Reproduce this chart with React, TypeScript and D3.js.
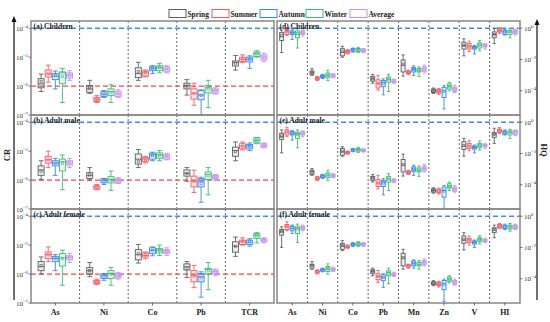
import * as d3 from 'd3';

// [min, q1, median, q3, max, mean]
const seasons = ['Spring', 'Summer', 'Autumn', 'Winter', 'Average'];
const seasonColors = ['#5f5f5f', '#f25a64', '#3b87e4', '#3dba78', '#c493ec'];
const crElements = ['As', 'Ni', 'Co', 'Pb', 'TCR'];
const hqElements = ['As', 'Ni', 'Co', 'Pb', 'Mn', 'Zn', 'V', 'HI'];
const crTicks = [1e-4, 1e-5, 1e-6, 1e-7];
const hqTicks = [1, 1e-2, 1e-4];

const crChildren = [
  [[6.5e-7, 8.7e-7, 1.2e-6, 1.8e-6, 2.6e-6, 1.46e-6], [1.37e-6, 2.06e-6, 2.6e-6, 3.6e-6, 5.3e-6, 2.8e-6], [8.0e-7, 1.67e-6, 2.2e-6, 2.7e-6, 3.3e-6, 2.3e-6], [2.7e-7, 1.2e-6, 2.86e-6, 3.1e-6, 4.1e-6, 2.2e-6], [1.58e-6, 1.9e-6, 2.37e-6, 2.86e-6, 3.4e-6, 2.4e-6]],
  [[5.6e-7, 6.1e-7, 8.0e-7, 1.05e-6, 1.58e-6, 8.5e-7], [2.7e-7, 2.92e-7, 3.44e-7, 4.06e-7, 4.66e-7, 3.5e-7], [4.06e-7, 4.4e-7, 5.3e-7, 6.4e-7, 7.0e-7, 5.3e-7], [2.7e-7, 4.66e-7, 6.4e-7, 8.0e-7, 1.11e-6, 6.0e-7], [4.06e-7, 4.4e-7, 5.3e-7, 6.6e-7, 7.4e-7, 5.4e-7]],
  [[1.58e-6, 1.96e-6, 2.7e-6, 4.3e-6, 6.65e-6, 3.2e-6], [2.06e-6, 2.24e-6, 2.86e-6, 3.3e-6, 3.6e-6, 2.9e-6], [2.7e-6, 3.4e-6, 4.1e-6, 4.66e-6, 5.05e-6, 4.1e-6], [2.86e-6, 3.4e-6, 4.3e-6, 5.05e-6, 6.1e-6, 4.3e-6], [2.86e-6, 3.1e-6, 3.86e-6, 4.66e-6, 5.05e-6, 3.9e-6]],
  [[4.9e-7, 8.0e-7, 1.05e-6, 1.26e-6, 1.67e-6, 1.0e-6], [2.18e-7, 3.56e-7, 5.6e-7, 8.0e-7, 1.26e-6, 5.5e-7], [1.0e-7, 3.36e-7, 4.9e-7, 7.0e-7, 7.4e-7, 4.8e-7], [1.8e-7, 5.8e-7, 8.7e-7, 1.05e-6, 1.58e-6, 8.0e-7], [5.3e-7, 5.6e-7, 7.0e-7, 8.0e-7, 8.7e-7, 6.8e-7]],
  [[3.56e-6, 4.93e-6, 6.45e-6, 7.4e-6, 1.14e-5, 6.2e-6], [6.45e-6, 7.0e-6, 8.5e-6, 1.0e-5, 1.2e-5, 8.6e-6], [4.1e-6, 6.8e-6, 8.5e-6, 1.0e-5, 1.11e-5, 8.5e-6], [1.0e-5, 1.05e-5, 1.31e-5, 1.5e-5, 1.67e-5, 1.3e-5], [7.0e-6, 8.0e-6, 1.0e-5, 1.2e-5, 1.38e-5, 1.0e-5]],
];

const crAdultMale = [
  [[1.05e-6, 1.46e-6, 2.24e-6, 3.1e-6, 4.66e-6, 2.0e-6], [2.7e-6, 3.86e-6, 5.05e-6, 6.65e-6, 1.0e-5, 5.0e-6], [1.46e-6, 3.1e-6, 3.86e-6, 4.66e-6, 5.66e-6, 3.8e-6], [4.66e-7, 2.06e-6, 4.3e-6, 5.3e-6, 7.4e-6, 3.8e-6], [2.7e-6, 3.3e-6, 3.9e-6, 4.66e-6, 5.66e-6, 4.0e-6]],
  [[1.0e-6, 1.14e-6, 1.46e-6, 1.81e-6, 2.7e-6, 1.5e-6], [4.66e-7, 4.9e-7, 5.8e-7, 6.4e-7, 7.0e-7, 5.8e-7], [7.0e-7, 8.0e-7, 1.0e-6, 1.11e-6, 1.14e-6, 9.0e-7], [4.4e-7, 8.0e-7, 1.05e-6, 1.31e-6, 2.06e-6, 1.0e-6], [7.6e-7, 8.0e-7, 9.7e-7, 1.11e-6, 1.2e-6, 9.5e-7]],
  [[2.7e-6, 3.56e-6, 5.3e-6, 8.0e-6, 1.14e-5, 4.5e-6], [3.9e-6, 4.43e-6, 5.3e-6, 6.1e-6, 6.65e-6, 5.0e-6], [4.66e-6, 5.3e-6, 7.4e-6, 8.5e-6, 9.2e-6, 7.0e-6], [4.66e-6, 5.66e-6, 7.4e-6, 8.7e-6, 1.05e-5, 7.0e-6], [5.0e-6, 5.3e-6, 6.45e-6, 7.6e-6, 8.5e-6, 6.5e-6]],
  [[9.1e-7, 1.37e-6, 1.71e-6, 2.24e-6, 2.7e-6, 1.7e-6], [3.73e-7, 5.8e-7, 9.1e-7, 1.37e-6, 2.2e-6, 9.0e-7], [1.71e-7, 5.8e-7, 9.1e-7, 1.14e-6, 1.26e-6, 7.5e-7], [3.1e-7, 1.05e-6, 1.58e-6, 1.9e-6, 2.7e-6, 1.4e-6], [1.0e-6, 1.11e-6, 1.26e-6, 1.46e-6, 1.58e-6, 1.2e-6]],
  [[4.66e-6, 6.65e-6, 1.05e-5, 1.38e-5, 2.08e-5, 9.5e-6], [1.11e-5, 1.2e-5, 1.5e-5, 1.81e-5, 2.08e-5, 1.45e-5], [1.05e-5, 1.2e-5, 1.5e-5, 1.71e-5, 1.92e-5, 1.45e-5], [1.81e-5, 1.92e-5, 2.37e-5, 2.88e-5, 2.95e-5, 2.3e-5], [1.31e-5, 1.38e-5, 1.58e-5, 1.81e-5, 1.92e-5, 1.55e-5]],
];

const crAdultFemale = [
  [[1.0e-6, 1.31e-6, 1.8e-6, 2.7e-6, 3.9e-6, 2.0e-6], [2.7e-6, 3.4e-6, 4.7e-6, 5.8e-6, 8.7e-6, 4.6e-6], [1.31e-6, 2.7e-6, 3.4e-6, 4.1e-6, 4.7e-6, 3.5e-6], [4.1e-7, 1.9e-6, 3.6e-6, 5.1e-6, 6.7e-6, 3.5e-6], [2.5e-6, 3.1e-6, 3.8e-6, 4.3e-6, 5.1e-6, 3.7e-6]],
  [[8.1e-7, 1.0e-6, 1.31e-6, 1.67e-6, 2.5e-6, 1.3e-6], [4.3e-7, 4.7e-7, 5.4e-7, 6.1e-7, 6.7e-7, 5.4e-7], [6.1e-7, 7.0e-7, 8.7e-7, 1.0e-6, 1.05e-6, 8.5e-7], [4.1e-7, 7.0e-7, 1.05e-6, 1.31e-6, 1.7e-6, 1.0e-6], [6.7e-7, 7.4e-7, 8.7e-7, 1.05e-6, 1.15e-6, 8.6e-7]],
  [[2.4e-6, 3.1e-6, 4.7e-6, 7.0e-6, 1.06e-5, 5.0e-6], [3.4e-6, 3.9e-6, 4.4e-6, 5.4e-6, 5.8e-6, 4.6e-6], [4.3e-6, 5.1e-6, 6.7e-6, 8.1e-6, 8.7e-6, 6.5e-6], [4.4e-6, 5.4e-6, 6.7e-6, 7.6e-6, 1.0e-5, 6.6e-6], [4.4e-6, 5.1e-6, 6.1e-6, 7.0e-6, 8.1e-6, 6.0e-6]],
  [[7.6e-7, 1.38e-6, 1.8e-6, 2.25e-6, 2.7e-6, 1.6e-6], [3.4e-7, 5.4e-7, 8.7e-7, 1.31e-6, 2.0e-6, 8.5e-7], [1.6e-7, 5.4e-7, 8.1e-7, 1.05e-6, 1.2e-6, 7.5e-7], [2.9e-7, 1.0e-6, 1.46e-6, 1.58e-6, 2.5e-6, 1.3e-6], [8.7e-7, 1.0e-6, 1.2e-6, 1.38e-6, 1.5e-6, 1.15e-6]],
  [[4.1e-6, 5.7e-6, 9.2e-6, 1.31e-5, 1.9e-5, 9.0e-6], [1.0e-5, 1.06e-5, 1.31e-5, 1.5e-5, 1.8e-5, 1.35e-5], [9.2e-6, 1.06e-5, 1.28e-5, 1.5e-5, 1.67e-5, 1.3e-5], [1.2e-5, 1.72e-5, 2.2e-5, 2.5e-5, 2.7e-5, 2.1e-5], [1.2e-5, 1.31e-5, 1.5e-5, 1.67e-5, 1.8e-5, 1.45e-5]],
];

const hqChildren = [
  [[0.028, 0.163, 0.28, 0.52, 0.74, 0.35], [0.35, 0.4, 0.6, 0.86, 1.1, 0.6], [0.19, 0.4, 0.52, 0.67, 0.86, 0.5], [0.054, 0.244, 0.4, 0.67, 0.95, 0.45], [0.31, 0.4, 0.52, 0.67, 0.78, 0.52]],
  [[9.6e-4, 1.12e-3, 1.44e-3, 1.85e-3, 2.64e-3, 1.5e-3], [4.5e-4, 5.0e-4, 6.1e-4, 7.5e-4, 8.3e-4, 6.2e-4], [6.1e-4, 6.8e-4, 8.3e-4, 1.01e-3, 1.12e-3, 8.3e-4], [4.5e-4, 6.8e-4, 9.6e-4, 1.37e-3, 2.05e-3, 1.0e-3], [6.8e-4, 7.5e-4, 9.2e-4, 1.12e-3, 1.24e-3, 9.2e-4]],
  [[0.0139, 0.017, 0.028, 0.0489, 0.0695, 0.033], [0.023, 0.0254, 0.031, 0.038, 0.042, 0.031], [0.0295, 0.0327, 0.042, 0.049, 0.054, 0.042], [0.028, 0.0327, 0.042, 0.051, 0.0597, 0.043], [0.028, 0.0295, 0.038, 0.0465, 0.049, 0.039]],
  [[3.0e-4, 4.1e-4, 5.8e-4, 8.3e-4, 1.12e-3, 5.8e-4], [1.1e-4, 1.5e-4, 3.0e-4, 5.0e-4, 9.6e-4, 3.0e-4], [5.5e-5, 1.83e-4, 3.5e-4, 4.5e-4, 5.8e-4, 3.0e-4], [9.0e-5, 3.5e-4, 5.3e-4, 7.5e-4, 1.12e-3, 5.5e-4], [3.0e-4, 3.35e-4, 4.1e-4, 5.0e-4, 5.5e-4, 4.2e-4]],
  [[8.7e-4, 1.59e-3, 4.35e-3, 9.3e-3, 0.0197, 5.0e-3], [1.06e-3, 1.24e-3, 1.51e-3, 1.85e-3, 2.05e-3, 1.5e-3], [9.6e-4, 1.59e-3, 2.26e-3, 3.06e-3, 3.94e-3, 2.3e-3], [8.3e-4, 1.59e-3, 2.05e-3, 2.64e-3, 3.39e-3, 2.1e-3], [1.37e-3, 1.76e-3, 2.38e-3, 3.39e-3, 4.35e-3, 2.5e-3]],
  [[6.7e-5, 7.8e-5, 1.0e-4, 1.29e-4, 1.5e-4, 1.0e-4], [6.0e-5, 7.0e-5, 9.0e-5, 1.22e-4, 1.42e-4, 9.0e-5], [6.9e-6, 3.66e-5, 1.0e-4, 1.66e-4, 2.13e-4, 9.0e-5], [1.0e-4, 1.29e-4, 1.92e-4, 2.74e-4, 3.5e-4, 1.9e-4], [7.8e-5, 9.0e-5, 1.22e-4, 1.66e-4, 2.13e-4, 1.25e-4]],
  [[0.017, 0.0465, 0.077, 0.127, 0.21, 0.08], [0.0327, 0.0465, 0.0695, 0.104, 0.148, 0.07], [0.023, 0.0465, 0.0597, 0.0695, 0.077, 0.058], [0.036, 0.054, 0.081, 0.115, 0.163, 0.085], [0.0465, 0.063, 0.077, 0.094, 0.104, 0.077]],
  [[0.104, 0.244, 0.4, 0.575, 0.95, 0.4], [0.47, 0.575, 0.74, 0.9, 1.1, 0.75], [0.366, 0.4, 0.575, 0.74, 0.86, 0.58], [0.244, 0.4, 0.575, 0.74, 0.95, 0.6], [0.366, 0.447, 0.6, 0.78, 0.86, 0.6]],
];

const hqAdultMale = [
  [[0.011, 0.08, 0.119, 0.195, 0.32, 0.13], [0.119, 0.152, 0.226, 0.32, 0.475, 0.24], [0.072, 0.152, 0.195, 0.25, 0.29, 0.2], [0.023, 0.093, 0.168, 0.226, 0.32, 0.17], [0.119, 0.152, 0.195, 0.25, 0.276, 0.2]],
  [[4.0e-4, 4.6e-4, 6.6e-4, 8.4e-4, 1.08e-3, 6.6e-4], [1.9e-4, 2.1e-4, 2.56e-4, 3.1e-4, 3.45e-4, 2.6e-4], [2.56e-4, 2.83e-4, 3.6e-4, 4.2e-4, 4.6e-4, 3.6e-4], [1.9e-4, 2.83e-4, 4.2e-4, 5.7e-4, 8.4e-4, 4.2e-4], [2.83e-4, 3.1e-4, 3.8e-4, 4.6e-4, 5.1e-4, 3.8e-4]],
  [[6.7e-3, 7.8e-3, 0.0128, 0.021, 0.027, 0.014], [9.1e-3, 0.01, 0.0116, 0.0128, 0.0142, 0.0115], [0.0128, 0.0142, 0.0164, 0.019, 0.021, 0.0165], [0.0116, 0.0142, 0.0172, 0.021, 0.0244, 0.0175], [0.0122, 0.0135, 0.0156, 0.0181, 0.02, 0.0155]],
  [[1.49e-4, 1.9e-4, 2.7e-4, 3.45e-4, 4.6e-4, 2.7e-4], [5.5e-5, 7.8e-5, 1.28e-4, 2.2e-4, 4.0e-4, 1.3e-4], [2.26e-5, 7.8e-5, 1.49e-4, 1.9e-4, 2.44e-4, 1.3e-4], [4.3e-5, 1.49e-4, 2.44e-4, 3.45e-4, 5.1e-4, 2.3e-4], [1.35e-4, 1.49e-4, 1.9e-4, 2.2e-4, 2.44e-4, 1.9e-4]],
  [[3.6e-4, 6.6e-4, 1.77e-3, 4.1e-3, 9.1e-3, 2.0e-3], [4.6e-4, 5.1e-4, 6.25e-4, 7.6e-4, 8.4e-4, 6.3e-4], [4.0e-4, 7.2e-4, 9.75e-4, 1.38e-3, 1.77e-3, 1.0e-3], [3.45e-4, 6.6e-4, 8.4e-4, 1.19e-3, 1.6e-3, 8.8e-4], [6.6e-4, 7.6e-4, 1.08e-3, 1.52e-3, 1.95e-3, 1.1e-3]],
  [[2.9e-5, 3.36e-5, 4.3e-5, 5.5e-5, 6.4e-5, 4.3e-5], [2.6e-5, 3.05e-5, 3.9e-5, 5.25e-5, 6.1e-5, 3.9e-5], [3.1e-6, 1.6e-5, 4.3e-5, 7.1e-5, 9.1e-5, 4.0e-5], [4.3e-5, 6.1e-5, 8.2e-5, 1.16e-4, 1.49e-4, 8.0e-5], [3.36e-5, 3.9e-5, 5.25e-5, 7.1e-5, 9.1e-5, 5.3e-5]],
  [[6.7e-3, 0.0181, 0.0297, 0.0566, 0.093, 0.033], [0.0149, 0.021, 0.0297, 0.0442, 0.0656, 0.03], [0.011, 0.019, 0.0244, 0.0297, 0.0345, 0.024], [0.0164, 0.023, 0.0328, 0.0442, 0.0625, 0.034], [0.021, 0.027, 0.0313, 0.038, 0.0442, 0.031]],
  [[0.0442, 0.108, 0.168, 0.215, 0.41, 0.17], [0.195, 0.226, 0.276, 0.353, 0.45, 0.3], [0.152, 0.168, 0.215, 0.276, 0.32, 0.23], [0.093, 0.152, 0.215, 0.276, 0.353, 0.24], [0.138, 0.168, 0.226, 0.29, 0.32, 0.24]],
];

const hqAdultFemale = [
  [[0.0102, 0.062, 0.101, 0.142, 0.21, 0.11], [0.117, 0.142, 0.21, 0.296, 0.437, 0.22], [0.079, 0.117, 0.165, 0.232, 0.268, 0.18], [0.0213, 0.079, 0.165, 0.21, 0.31, 0.15], [0.117, 0.142, 0.18, 0.232, 0.268, 0.18]],
  [[4.1e-4, 4.75e-4, 6.7e-4, 8.5e-4, 1.26e-3, 7.0e-4], [2.08e-4, 2.29e-4, 2.78e-4, 3.38e-4, 3.73e-4, 2.8e-4], [2.78e-4, 3.07e-4, 3.73e-4, 4.3e-4, 4.75e-4, 3.7e-4], [1.98e-4, 2.92e-4, 4.3e-4, 6.1e-4, 8.95e-4, 4.4e-4], [2.92e-4, 3.22e-4, 3.9e-4, 4.75e-4, 5.5e-4, 3.9e-4]],
  [[6.3e-3, 7.65e-3, 0.0125, 0.0184, 0.0272, 0.013], [8.9e-3, 9.8e-3, 0.0108, 0.0125, 0.0144, 0.011], [0.0113, 0.0131, 0.0159, 0.0184, 0.0203, 0.016], [0.0113, 0.0131, 0.0167, 0.0203, 0.0235, 0.017], [0.0113, 0.0131, 0.0159, 0.0184, 0.0203, 0.016]],
  [[1.55e-4, 2.08e-4, 2.92e-4, 3.73e-4, 4.75e-4, 2.9e-4], [5.85e-5, 8.6e-5, 1.41e-4, 2.08e-4, 3.38e-4, 1.4e-4], [2.8e-5, 7.5e-5, 1.28e-4, 1.8e-4, 2.08e-4, 1.2e-4], [4.8e-5, 1.55e-4, 2.52e-4, 3.22e-4, 4.75e-4, 2.3e-4], [1.41e-4, 1.55e-4, 1.88e-4, 2.29e-4, 2.65e-4, 1.9e-4]],
  [[4.1e-4, 6.7e-4, 2.05e-3, 4.27e-3, 7.65e-3, 2.2e-3], [4.75e-4, 5.5e-4, 6.7e-4, 7.75e-4, 8.5e-4, 6.5e-4], [4.75e-4, 6.7e-4, 9.9e-4, 1.39e-3, 1.61e-3, 1.0e-3], [4.1e-4, 6.7e-4, 8.5e-4, 1.14e-3, 1.46e-3, 9.0e-4], [6.7e-4, 7.75e-4, 1.09e-3, 1.46e-3, 1.86e-3, 1.1e-3]],
  [[3.6e-5, 4.16e-5, 5.3e-5, 6.45e-5, 7.5e-5, 5.2e-5], [2.96e-5, 3.6e-5, 4.37e-5, 5.85e-5, 6.8e-5, 4.4e-5], [3.6e-6, 2.0e-5, 4.8e-5, 7.8e-5, 9.5e-5, 4.5e-5], [5.3e-5, 6.8e-5, 9.5e-5, 1.28e-4, 1.55e-4, 9.0e-5], [3.96e-5, 4.37e-5, 5.85e-5, 7.8e-5, 9.5e-5, 6.0e-5]],
  [[6.9e-3, 0.0184, 0.03, 0.0537, 0.0875, 0.033], [0.0144, 0.0203, 0.03, 0.0382, 0.0537, 0.03], [9.8e-3, 0.0167, 0.0213, 0.0259, 0.03, 0.022], [0.0167, 0.0235, 0.033, 0.042, 0.0564, 0.032], [0.0203, 0.0235, 0.0272, 0.033, 0.0382, 0.028]],
  [[0.042, 0.092, 0.129, 0.18, 0.268, 0.14], [0.165, 0.18, 0.232, 0.296, 0.342, 0.25], [0.142, 0.165, 0.21, 0.268, 0.31, 0.2], [0.111, 0.15, 0.21, 0.268, 0.342, 0.2], [0.142, 0.165, 0.21, 0.268, 0.31, 0.21]],
];

const W = 550;
const H = 322;
const font = '"Liberation Serif", "Times New Roman", serif';
const panelTops = [21, 115, 209];
const panelH = 94;
const blue = '#3f8ff0';
const red = '#f04848';

const panels = [
  { label: '(a) Children', kind: 'cr', row: 0, data: crChildren },
  { label: '(b) Adult male', kind: 'cr', row: 1, data: crAdultMale },
  { label: '(c) Adult female', kind: 'cr', row: 2, data: crAdultFemale },
  { label: '(d) Children', kind: 'hq', row: 0, data: hqChildren },
  { label: '(e) Adult male', kind: 'hq', row: 1, data: hqAdultMale },
  { label: '(f) Adult female', kind: 'hq', row: 2, data: hqAdultFemale },
];

const expLabel = (v) => String(Math.round(Math.log10(v))).replace('-', '\u2212');

function Panel({ p }) {
  const isCr = p.kind === 'cr';
  const top = panelTops[p.row];
  const x0 = isCr ? 31 : 277;
  const x1 = isCr ? 274 : 520;
  const elements = isCr ? crElements : hqElements;
  const y = d3.scaleLog()
    .domain(isCr ? [1e-7, Math.pow(10, -3.75)] : [Math.pow(10, -5.55), Math.pow(10, 0.46)])
    .range([top + panelH, top]);
  const x = d3.scaleBand().domain(elements).range([x0, x1]);
  const inner = d3.scaleBand().domain(seasons).range([0, x.bandwidth()])
    .paddingInner(isCr ? 0.15 : 0.25).paddingOuter(isCr ? 1.0 : 0.5);
  const bw = inner.bandwidth();
  const refs = isCr ? [[1e-4, blue], [1e-6, red]] : [[1, blue]];

  return (
    <g>
      {elements.slice(1).map((e) => (
        <line key={e} x1={x(e)} x2={x(e)} y1={top} y2={top + panelH}
          stroke="#555" strokeWidth={0.9} strokeDasharray="2,2" />
      ))}
      {refs.map(([v, c]) => (
        <line key={v} x1={x0} x2={x1} y1={y(v)} y2={y(v)} stroke={c}
          strokeWidth={1.4} strokeDasharray="5,3" />
      ))}
      {elements.map((e, ei) => (
        <g key={e}>
          {seasons.map((s, si) => {
            const [mn, q1, md, q3, mx, mean] = p.data[ei][si];
            const c = seasonColors[si];
            const cx = x(e) + inner(s) + bw / 2;
            const cap = bw * 0.8;
            return (
              <g key={s} stroke={c} strokeWidth={0.9}>
                <line x1={cx} x2={cx} y1={y(mn)} y2={y(q1)} />
                <line x1={cx} x2={cx} y1={y(q3)} y2={y(mx)} />
                <line x1={cx - cap / 2} x2={cx + cap / 2} y1={y(mn)} y2={y(mn)} />
                <line x1={cx - cap / 2} x2={cx + cap / 2} y1={y(mx)} y2={y(mx)} />
                <rect x={cx - bw / 2} width={bw} y={y(q3)} height={Math.max(0.8, y(q1) - y(q3))}
                  fill={c} fillOpacity={si === 4 ? 0.35 : 0.12} />
                <line x1={cx - bw / 2} x2={cx + bw / 2} y1={y(md)} y2={y(md)} />
                <rect x={cx - 1.1} y={y(mean) - 1.1} width={2.2} height={2.2} fill="none" strokeWidth={0.6} />
              </g>
            );
          })}
        </g>
      ))}
      <rect x={x0} y={top} width={x1 - x0} height={panelH} fill="none" stroke="#888" strokeWidth={1.5} />
      <text x={x0 + 2.5} y={top + 7.5} fontFamily={font} fontWeight="bold" fontSize={7.5} fill="#222">{p.label}</text>
      {(isCr ? crTicks : hqTicks).map((t) => (
        <g key={t}>
          {isCr ? (
            <>
              <line x1={x0 - 2.5} x2={x0} y1={y(t)} y2={y(t)} stroke="#444" strokeWidth={0.7} />
              <text x={x0 - 3} y={y(t) + 2.5} textAnchor="end" fontFamily={font} fontSize={7} fill="#333">
                10<tspan dy={-3} fontSize={4.8}>{expLabel(t)}</tspan>
              </text>
            </>
          ) : (
            <>
              <line x1={x1} x2={x1 + 2.5} y1={y(t)} y2={y(t)} stroke="#444" strokeWidth={0.7} />
              <text x={x1 + 4} y={y(t) + 2.5} fontFamily={font} fontSize={7} fill="#333">
                10<tspan dy={-3} fontSize={4.8}>{expLabel(t)}</tspan>
              </text>
            </>
          )}
        </g>
      ))}
      {p.row === 2 && elements.map((e) => (
        <g key={e}>
          <line x1={x(e) + x.bandwidth() / 2} x2={x(e) + x.bandwidth() / 2} y1={top + panelH} y2={top + panelH + 2.5}
            stroke="#444" strokeWidth={0.8} />
          <text x={x(e) + x.bandwidth() / 2} y={top + panelH + 11.5} textAnchor="middle"
            fontFamily={font} fontWeight="bold" fontSize={8} fill="#222">{e}</text>
        </g>
      ))}
    </g>
  );
}

const legendX = [169, 212, 260, 306, 350];

export default function App() {
  return (
    <svg width={W} height={H} style={{ position: 'absolute', left: 0, top: 0, background: '#fff' }}>
      <rect width={W} height={H} fill="#fff" />
      {seasons.map((s, i) => (
        <g key={s}>
          <rect x={legendX[i]} y={9.5} width={17} height={8} fill="#fff" stroke={seasonColors[i]} strokeWidth={1} />
          <text x={legendX[i] + 18.5} y={16.5} fontFamily={font} fontWeight="bold" fontSize={7.4} fill="#222">{s}</text>
        </g>
      ))}
      {panels.map((p) => <Panel key={p.label} p={p} />)}
      <line x1={14} x2={14} y1={300} y2={21} stroke="#111" strokeWidth={1.2} />
      <path d="M14,16 L11.5,22 L16.5,22 Z" fill="#111" />
      <line x1={537} x2={537} y1={300} y2={24} stroke="#111" strokeWidth={1.2} />
      <path d="M537,19 L534.5,25 L539.5,25 Z" fill="#111" />
      <text transform="translate(10,155) rotate(-90)" textAnchor="middle" fontFamily={font} fontWeight="bold" fontSize={8.5} fill="#222">CR</text>
      <text transform="translate(541,150) rotate(90)" textAnchor="middle" fontFamily={font} fontWeight="bold" fontSize={8.5} fill="#222">HQ</text>
    </svg>
  );
}
